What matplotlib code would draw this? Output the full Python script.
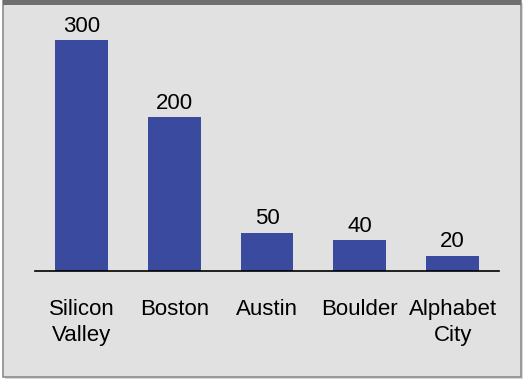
import matplotlib.pyplot as plt
from matplotlib.patches import Rectangle

# data
cities = ['Silicon\nValley', 'Boston', 'Austin', 'Boulder', 'Alphabet\nCity']
counts = [300, 200, 50, 40, 20]

plt.rcParams['font.family'] = ['Liberation Sans', 'DejaVu Sans']

W, H = 525, 380
fig = plt.figure(figsize=(W / 100, H / 100), dpi=100, facecolor='white')

# grey panel with dark band on top (behind the axes)
def px(x0, y0, x1, y1, **kw):
    fig.patches.append(Rectangle((x0 / W, 1 - y1 / H), (x1 - x0) / W, (y1 - y0) / H,
                                 transform=fig.transFigure, zorder=-5, **kw))

px(5, 3, 523, 379, facecolor='#d8d8d8', edgecolor='none')          # shadow
px(3, 0, 521, 377, facecolor='#e1e1e1', edgecolor='#8c8c8c', linewidth=1.2)
px(3, 0, 521, 5, facecolor='#6f6f6f', edgecolor='none')

ax = fig.add_axes([35 / W, (H - 271) / H, (499 - 35) / W, (271 - 10) / H])
ax.set_facecolor('none')

x = range(len(cities))
bars = ax.bar(x, counts, width=0.57, color='#3a4a9e')

for xi, v in zip(x, counts):
    ax.annotate(str(v), (xi, v), xytext=(0, 6), textcoords='offset points',
                ha='center', va='baseline', fontsize=16)

ax.set_xlim(-0.5, len(cities) - 0.5)
ax.set_ylim(0, 261 / 0.77)
ax.set_xticks(list(x))
ax.set_xticklabels(cities, fontsize=16, linespacing=1.3)
ax.tick_params(axis='x', length=0, pad=20)
ax.set_yticks([])
for s in ['top', 'right', 'left']:
    ax.spines[s].set_visible(False)
ax.spines['bottom'].set_linewidth(1.2)
ax.spines['bottom'].set_color('black')

plt.savefig('out.png', dpi=100)
print('finish')
